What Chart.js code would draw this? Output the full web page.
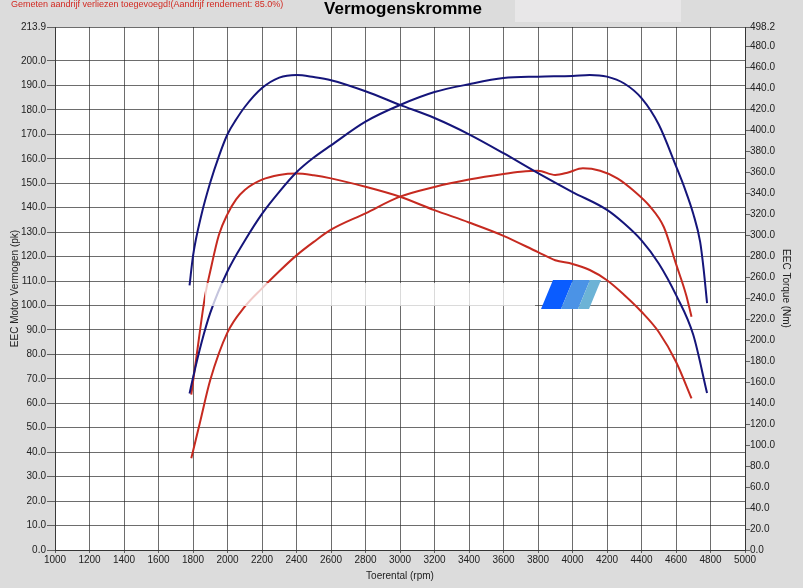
<!DOCTYPE html>
<html>
<head>
<meta charset="utf-8">
<script src="https://cdn.jsdelivr.net/npm/chart.js@4/dist/chart.umd.min.js"></script>
<style>
  html, body { margin: 0; padding: 0; background: #dcdcdc; }
  #wrap { width: 803px; height: 588px; }
</style>
</head>
<body>
<div id="wrap"><canvas id="dynoChart" width="803" height="588"></canvas></div>
<script>
// tick labels
var rpmTicks = [1000, 1200, 1400, 1600, 1800, 2000, 2200, 2400, 2600, 2800, 3000,
  3200, 3400, 3600, 3800, 4000, 4200, 4400, 4600, 4800, 5000];
var pkTicks = [0, 10, 20, 30, 40, 50, 60, 70, 80, 90, 100, 110, 120, 130, 140,
  150, 160, 170, 180, 190, 200, 213.9];
var nmTicks = [0, 20, 40, 60, 80, 100, 120, 140, 160, 180, 200, 220, 240, 260,
  280, 300, 320, 340, 360, 380, 400, 420, 440, 460, 480, 498.2];

// motor power (pk) - blue
var motorPowerRpm = [1780, 1800, 1850, 1900, 2000, 2100, 2200, 2300, 2400, 2500, 2600, 2800, 3000,
  3200, 3400, 3600, 3800, 4000, 4100, 4200, 4300, 4400, 4500, 4600, 4650, 4700, 4740, 4760, 4780];
var motorPower = [64, 70.5, 85, 97, 114, 126.5, 137.5, 146.5, 154.5, 160.5, 165.5, 175.2, 182,
  187.3, 190.5, 193, 193.6, 193.9, 194.3, 193.6, 190.8, 184.8, 174, 157, 148, 137.5, 126, 115, 101];

// motor torque (Nm) - blue
var motorTorqueRpm = [1780, 1800, 1850, 1900, 1950, 2000, 2050, 2100, 2200, 2300, 2400, 2500, 2600, 2800,
  3000, 3200, 3400, 3600, 3800, 4000, 4200, 4300, 4400, 4500, 4600, 4700, 4780];
var motorTorque = [252, 280, 320, 350, 375, 396, 410, 422, 440, 450, 452.5, 450.5, 447.5, 437,
  424, 411.5, 396, 378, 359, 341, 324, 311, 295, 273, 243, 205, 149.5];

// wheel power (pk) - red
var wheelPowerRpm = [1790, 1840, 1900, 2000, 2100, 2200, 2300, 2400, 2500, 2600, 2800, 3000, 3200,
  3400, 3600, 3700, 3800, 3900, 3970, 4060, 4160, 4260, 4350, 4450, 4530, 4600, 4660, 4690];
var wheelPower = [37.5, 52, 69.5, 89, 99.5, 107, 114, 120.5, 126, 131, 137.7, 144.5, 148.5,
  151.5, 153.8, 154.7, 155.1, 153.4, 154.3, 156.1, 155.1, 152, 147.2, 140.4, 132, 117, 104, 95.4];

// wheel torque (Nm) - red
var wheelTorqueRpm = [1790, 1820, 1870, 1900, 1950, 2000, 2050, 2100, 2200, 2300, 2400, 2500, 2600,
  2800, 3000, 3200, 3400, 3600, 3800, 3900, 4000, 4100, 4200, 4300, 4400, 4500, 4600, 4690];
var wheelTorque = [148, 184, 242, 265.5, 300, 320, 334, 343, 352.8, 357.3, 358.7, 357, 354,
  346, 336.5, 323.7, 312, 299.3, 283.7, 276, 272.5, 266.7, 257, 243, 227, 207.7, 179.3, 144.4];

var blue = "#15157a";
var red = "#c62a20";
var tickFont = { family: "Arial, 'Liberation Sans', sans-serif", size: 10 };
var gridColor = "rgba(30,30,30,0.65)";

function pts(xs, ys) {
  return xs.map(function (x, i) { return { x: x, y: ys[i] }; });
}

// gray page, white plot area, header texts and the watermark
var decoPlugin = {
  id: "deco",
  beforeDraw: function (chart) {
    var ctx = chart.ctx;
    var a = chart.chartArea;
    ctx.save();
    ctx.fillStyle = "#dcdcdc";
    ctx.fillRect(0, 0, chart.width, chart.height);
    ctx.fillStyle = "#e8e7e8";
    ctx.fillRect(515, 0, 166, 22);
    ctx.fillStyle = "#ffffff";
    ctx.fillRect(a.left, a.top, a.right - a.left, a.bottom - a.top);
    ctx.fillStyle = "#d22a22";
    ctx.font = "9px Arial, 'Liberation Sans', sans-serif";
    ctx.textBaseline = "middle";
    ctx.fillText("Gemeten aandrijf verliezen toegevoegd!(Aandrijf rendement: 85.0%)", 11, 5);
    ctx.fillStyle = "#000000";
    ctx.font = "bold 17px Arial, 'Liberation Sans', sans-serif";
    ctx.textAlign = "center";
    ctx.fillText("Vermogenskromme", 403, 9);
    ctx.restore();
  },
  afterDatasetsDraw: function (chart) {
    var ctx = chart.ctx;
    ctx.save();
    ctx.fillStyle = "rgba(255,255,255,0.75)";
    ctx.fillRect(205, 283, 330, 23);
    var segs = [["#0a5cff", 553, 573], ["#4b93e6", 573, 590], ["#6cb3d6", 590, 601]];
    segs.forEach(function (s) {
      ctx.fillStyle = s[0];
      ctx.beginPath();
      ctx.moveTo(s[1], 280);
      ctx.lineTo(s[2], 280);
      ctx.lineTo(s[2] - 12, 309);
      ctx.lineTo(s[1] - 12, 309);
      ctx.closePath();
      ctx.fill();
    });
    ctx.restore();
  }
};

function line(label, data, axis, color) {
  return {
    label: label,
    data: data,
    yAxisID: axis,
    borderColor: color,
    borderWidth: 2,
    cubicInterpolationMode: "monotone",
    pointRadius: 0,
    fill: false,
  };
}

var dynoctx = document.getElementById("dynoChart");
var dynoChart = new Chart(dynoctx, {
  type: "line",
  data: {
    datasets: [
      line("Motor vermogen", pts(motorPowerRpm, motorPower), "y", blue),
      line("Motor torque", pts(motorTorqueRpm, motorTorque), "y2", blue),
      line("Wiel vermogen", pts(wheelPowerRpm, wheelPower), "y", red),
      line("Wiel torque", pts(wheelTorqueRpm, wheelTorque), "y2", red),
    ],
  },
  options: {
    responsive: false,
    animation: false,
    layout: { padding: { top: 27, left: 0, right: 0, bottom: 0 } },
    plugins: {
      legend: { display: false },
      tooltip: { enabled: false },
    },
    scales: {
      x: {
        type: "linear",
        min: 1000,
        max: 5000,
        afterBuildTicks: function (s) { s.ticks = rpmTicks.map(function (v) { return { value: v }; }); },
        afterFit: function (s) { s.height = 38; },
        ticks: {
          autoSkip: false, maxRotation: 0, font: tickFont, color: "#222", padding: 1,
          callback: function (v) { return String(v); },
        },
        grid: { color: gridColor, tickLength: 3 },
        border: { color: gridColor },
        title: { display: true, text: "Toerental (rpm)", font: tickFont, color: "#222", padding: { top: 0, bottom: 6 } },
      },
      y: {
        position: "left",
        min: 0,
        max: 213.9,
        afterBuildTicks: function (s) { s.ticks = pkTicks.map(function (v) { return { value: v }; }); },
        afterFit: function (s) { s.width = 55; },
        ticks: {
          autoSkip: false, font: tickFont, color: "#222", padding: 1,
          callback: function (v) { return Number(v).toFixed(1); },
        },
        grid: { color: gridColor, tickLength: 8 },
        border: { color: gridColor },
        title: { display: true, text: "EEC Motor Vermogen (pk)", font: tickFont, color: "#222", padding: { top: 9, bottom: 0 } },
      },
      y2: {
        position: "right",
        min: 0,
        max: 498.2,
        afterBuildTicks: function (s) { s.ticks = nmTicks.map(function (v) { return { value: v }; }); },
        afterFit: function (s) { s.width = 58; },
        ticks: {
          autoSkip: false, font: tickFont, color: "#222", padding: 0,
          callback: function (v) { return Number(v).toFixed(1); },
        },
        grid: { drawOnChartArea: false, color: gridColor, tickLength: 5 },
        border: { color: gridColor },
        title: { display: true, text: "EEC Torque (Nm)", font: tickFont, color: "#222", padding: { top: 11, bottom: 0 } },
      },
    },
  },
  plugins: [decoPlugin],
});
</script>
</body>
</html>
